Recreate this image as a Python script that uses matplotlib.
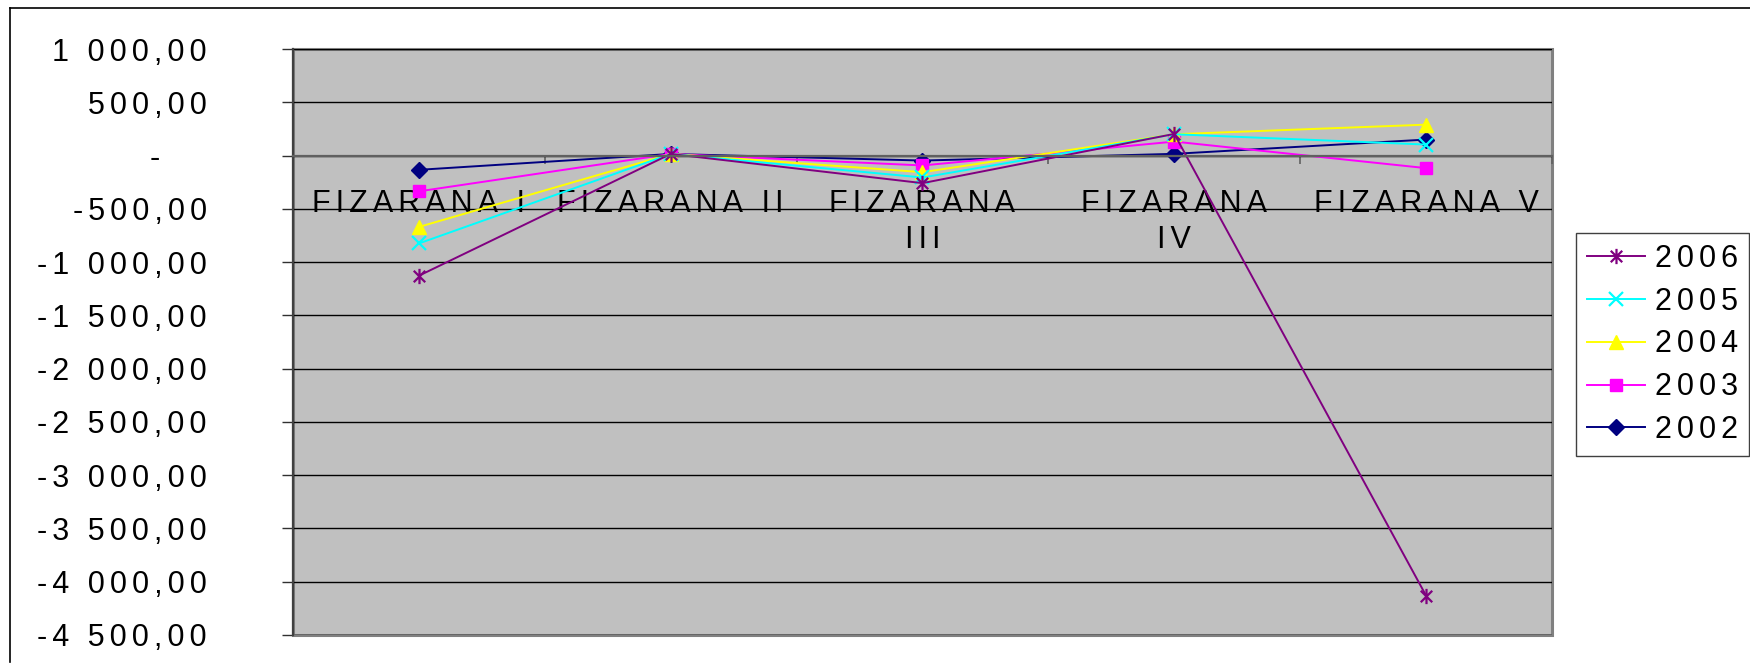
import matplotlib.pyplot as plt
import matplotlib.transforms as mtransforms
from matplotlib.lines import Line2D
from matplotlib.path import Path
import numpy as np

plt.rcParams['font.family'] = ['Liberation Sans', 'DejaVu Sans']

categories = ['FIZARANA I', 'FIZARANA II', 'FIZARANA\nIII', 'FIZARANA\nIV', 'FIZARANA V']
years = ['2002', '2003', '2004', '2005', '2006']
v2002 = [-134, 15, -47, 16, 150]
v2003 = [-336, 15, -93, 131, -118]
v2004 = [-670, 15, -156, 200, 290]
v2005 = [-825, 15, -206, 200, 103]
v2006 = [-1128, 15, -259, 203, -4131]
y_ticks = np.arange(-4500, 1001, 500)

# excel-style star: x with a vertical bar
star = Path([(0, -1), (0, 1), (-0.75, -0.75), (0.75, 0.75), (-0.75, 0.75), (0.75, -0.75)],
            [Path.MOVETO, Path.LINETO] * 3)

colors = ['#000080', '#FF00FF', '#FFFF00', '#00FFFF', '#800080']
markers = ['D', 's', '^', 'x', star]
msizes = [8, 8, 10, 10, 11]


def spaced(s):
    # wide letter spacing like the original
    gap = '\u200a\u200a'
    return '\n'.join(gap.join(line) for line in s.split('\n'))


def ylab(v):
    if v == 0:
        return '-'
    s = f'{abs(v):,.2f}'.replace(',', ' ').replace('.', ',')
    return ('-' if v < 0 else '') + s


fig = plt.figure(figsize=(17.5, 6.71), dpi=100)
ax = fig.add_axes([293 / 1750, 1 - 635 / 671, (1552 - 293) / 1750, (635 - 49) / 671])
ax.set_facecolor('#C0C0C0')

x = np.arange(len(categories))
series = [v2002, v2003, v2004, v2005, v2006]
for vals, c, m, ms, yr in zip(series, colors, markers, msizes, years):
    ax.plot(x, vals, color=c, marker=m, markersize=ms, linewidth=1.4,
            markeredgewidth=1.6 if m in ('x', star) else 1, label=spaced(yr))

ax.set_xlim(-0.5, 4.5)
ax.set_ylim(-4500, 1000)
ax.set_yticks(y_ticks)
ax.set_yticklabels([spaced(ylab(v)) for v in y_ticks], fontsize=22)
ax.tick_params(axis='y', length=8, width=1, color='#303030', pad=54)
ax.grid(axis='y', color='black', linewidth=1.0)
ax.set_axisbelow(True)

# category axis crosses at zero
ax.spines['bottom'].set_position(('data', 0))
ax.spines['bottom'].set_color('#606060')
ax.spines['bottom'].set_linewidth(1.6)
ax.spines['top'].set_visible(False)
ax.spines['right'].set_visible(False)
ax.spines['left'].set_color('#404040')
ax.spines['left'].set_linewidth(1.6)
ax.patch.set_edgecolor('#808080')
ax.patch.set_linewidth(2.2)

ax.set_xticks(x)
ax.set_xticklabels([spaced(c) for c in categories], fontsize=22, linespacing=1.25)
ax.set_xticks(np.arange(-0.5, 4.6, 1), minor=True)
ax.tick_params(axis='x', which='major', length=0, pad=24)
ax.tick_params(axis='x', which='minor', length=6, width=1.2, color='#606060', direction='out')

# the zero label sits left, as in accounting format
for t, lab in zip(ax.yaxis.get_major_ticks(), y_ticks):
    if lab == 0:
        t.label1.set_transform(t.label1.get_transform() +
                               mtransforms.ScaledTranslation(-0.47, 0, fig.dpi_scale_trans))

handles, labels = ax.get_legend_handles_labels()
fig.legend(handles[::-1], labels[::-1], loc='upper left',
           bbox_to_anchor=(1576 / 1750, 1 - 233 / 671), fontsize=22,
           frameon=True, fancybox=False, edgecolor='#404040', framealpha=1,
           borderaxespad=0, borderpad=0.35, handlelength=1.9, handletextpad=0.33,
           labelspacing=0.42)

# outer chart border
fig.add_artist(Line2D([10 / 1750, 1.0], [1 - 8 / 671, 1 - 8 / 671], color='black', linewidth=1.2))
fig.add_artist(Line2D([10 / 1750, 10 / 1750], [1 - 8 / 671, 1 - 662 / 671], color='black', linewidth=1.2))

fig.savefig('out.png', dpi=100)
